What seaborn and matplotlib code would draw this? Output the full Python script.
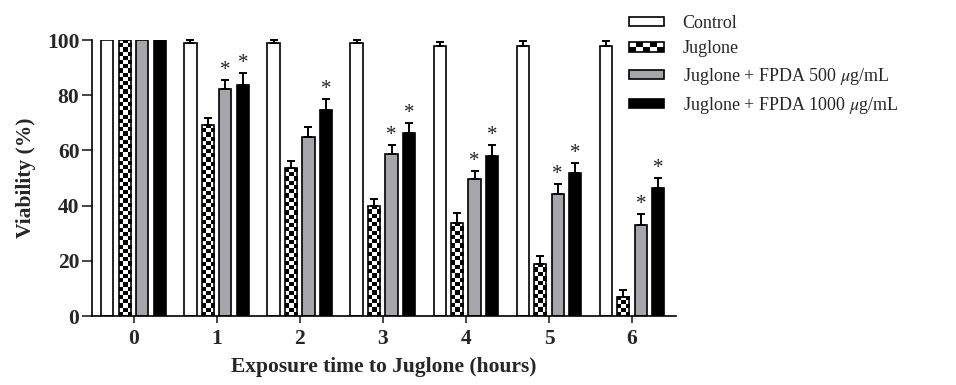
import numpy as np
import pandas as pd
import matplotlib
matplotlib.use("Agg")
import matplotlib.pyplot as plt
import seaborn as sns
from matplotlib.patches import Rectangle
from matplotlib.legend_handler import HandlerBase

# --- data ---
times = ["0", "1", "2", "3", "4", "5", "6"]
treatments = ["Control", "Juglone",
              "Juglone + FPDA 500 $\\mu$g/mL", "Juglone + FPDA 1000 $\\mu$g/mL"]
control      = [100, 99.0, 99.0, 99.0, 98.0, 98.0, 98.0]
control_err  = [0, 1.0, 1.0, 1.0, 1.4, 1.5, 1.5]
juglone      = [100, 69.4, 53.5, 40.0, 33.9, 19.0, 7.0]
juglone_err  = [0, 2.2, 2.7, 2.3, 3.3, 2.7, 2.4]
fpda500      = [100, 82.1, 64.7, 58.7, 49.5, 44.4, 33.1]
fpda500_err  = [0, 3.4, 3.9, 3.4, 3.0, 3.6, 4.0]
fpda1000     = [100, 83.8, 74.6, 66.4, 58.1, 51.8, 46.5]
fpda1000_err = [0, 4.1, 3.9, 3.4, 3.9, 3.8, 3.4]
star500  = [0, 1, 0, 1, 1, 1, 1]
star1000 = [0, 1, 1, 1, 1, 1, 1]

colors = ["white", "white", "#a6a6aa", "black"]

df = pd.DataFrame({
    "time": times * 4,
    "treatment": np.repeat(treatments, len(times)),
    "viability": control + juglone + fpda500 + fpda1000,
})
errs = [control_err, juglone_err, fpda500_err, fpda1000_err]
stars = [[0] * 7, [0] * 7, star500, star1000]

sns.set_style("ticks")
plt.rcParams["font.family"] = ["Liberation Serif", "DejaVu Serif"]
plt.rcParams["mathtext.fontset"] = "stix"

fig = plt.figure(figsize=(9.56, 3.85), dpi=100)
ax = fig.add_axes([0.0962, 0.179, 0.611, 0.717])

sns.barplot(data=df, x="time", y="viability", hue="treatment", hue_order=treatments,
            palette=colors, width=0.84, gap=0.3, edgecolor="black", linewidth=1.2,
            saturation=1, legend=False, ax=ax)

ax.set_ylim(0, 100)
ax.set_xlim(-0.5, 6.53)

# checkerboard fill for the Juglone bars
for bar in ax.containers[1]:
    x0, w, h = bar.get_x(), bar.get_width(), bar.get_height()
    p0 = ax.transData.transform((x0, 0))
    p1 = ax.transData.transform((x0 + w, h))
    nrows = max(1, int(round((p1[1] - p0[1]) / 4.2)))
    ncols = 3
    checker = (np.indices((nrows, ncols)).sum(axis=0) % 2).astype(float)
    ax.imshow(checker, extent=[x0, x0 + w, 0, h], cmap="gray",
              interpolation="nearest", aspect="auto", zorder=1.5, origin="lower")
    bar.set_facecolor("none")
    bar.set_zorder(2)

ax.set_ylim(0, 100)
ax.set_xlim(-0.5, 6.53)

# error bars (upper only) and significance stars
for k, cont in enumerate(ax.containers[:4]):
    for i, bar in enumerate(cont):
        xc = bar.get_x() + bar.get_width() / 2
        top = bar.get_height()
        e = errs[k][i]
        if e > 0:
            ax.errorbar(xc, top, yerr=[[0], [e]], fmt="none", ecolor="black",
                        elinewidth=1.4, capsize=3, capthick=1.4, zorder=3, clip_on=False)
        if stars[k][i]:
            ax.annotate("*", (xc, top + e), xytext=(0, 0), textcoords="offset points",
                        ha="center", va="bottom", fontsize=15, color="#222222")

ax.set_yticks([0, 20, 40, 60, 80, 100])
ax.tick_params(axis="y", length=7, width=1.2, labelsize=15.5, pad=2)
ax.tick_params(axis="x", length=5, width=1.2, labelsize=15.5, pad=4)
for lab in ax.get_xticklabels() + ax.get_yticklabels():
    lab.set_fontweight("bold")
ax.set_xlabel("Exposure time to Juglone (hours)", fontsize=15.5, fontweight="bold", labelpad=6)
ax.set_ylabel("Viability (%)", fontsize=15.5, fontweight="bold", labelpad=8)
sns.despine(ax=ax)
for s in ["left", "bottom"]:
    ax.spines[s].set_linewidth(1.2)
    ax.spines[s].set_color("black")


class HandlerChecker(HandlerBase):
    def create_artists(self, legend, orig_handle, xdescent, ydescent,
                       width, height, fontsize, trans):
        arts = [Rectangle((-xdescent, -ydescent), width, height, facecolor="white",
                          edgecolor="black", lw=1.2, transform=trans)]
        ncols, nrows = 5, 2
        cw, ch = width / ncols, height / nrows
        for r in range(nrows):
            for c in range(ncols):
                if (r + c) % 2 == 0:
                    arts.append(Rectangle((-xdescent + c * cw, -ydescent + r * ch), cw, ch,
                                          facecolor="black", edgecolor="none", transform=trans))
        return arts


handles = [Rectangle((0, 0), 1, 1, facecolor=colors[0], edgecolor="black", lw=1.2),
           Rectangle((0, 0), 1, 1, facecolor="white", edgecolor="black", lw=1.2),
           Rectangle((0, 0), 1, 1, facecolor=colors[2], edgecolor="black", lw=1.2),
           Rectangle((0, 0), 1, 1, facecolor=colors[3], edgecolor="black", lw=1.2)]
fig.legend(handles, treatments, loc="upper left", bbox_to_anchor=(0.648, 0.985),
           frameon=False, fontsize=13, handlelength=1.95, handleheight=0.42,
           handletextpad=1.05, labelspacing=0.47, borderpad=0,
           handler_map={handles[1]: HandlerChecker()})

fig.savefig("out.png", dpi=100)
